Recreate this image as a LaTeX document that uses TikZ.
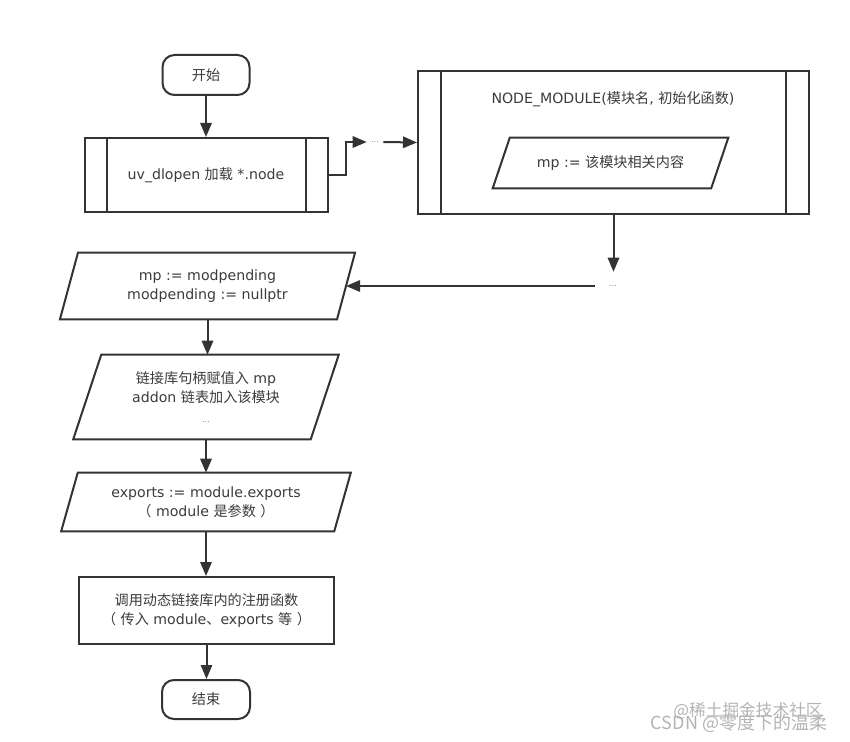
\documentclass[tikz,border=0pt]{standalone}
\usepackage{fontspec}
\setmainfont{DejaVu Sans}
\newfontfamily\cjk{Noto Sans CJK SC}
\usetikzlibrary{arrows.meta}
\definecolor{ln}{HTML}{333333}
\definecolor{tx}{HTML}{3C3C3C}
\definecolor{wm}{HTML}{B4B4B4}
\newcommand\drawpara[2]{\draw[draw=ln, line width=1.5pt, line join=miter]
  ([xshift=#2]#1.north west) -- ([xshift=#2]#1.north east) --
  ([xshift=-#2]#1.south east) -- ([xshift=-#2]#1.south west) -- cycle;}
\newcommand\drawbars[2]{\draw[draw=ln, line width=1.5pt]
  ([xshift=#2]#1.north west) -- ([xshift=#2]#1.south west)
  ([xshift=-#2]#1.north east) -- ([xshift=-#2]#1.south east);}
\begin{document}
\begin{tikzpicture}[x=0.75pt,y=-0.75pt,
  every node/.style={font=\fontsize{10.6}{14.5}\selectfont, text=tx},
  arr/.style={draw=ln, line width=1.5pt, -{Triangle[length=10.5pt,width=8.5pt]}},
  box/.style={draw=ln, line width=1.5pt, rectangle, inner sep=0pt, align=center},
  term/.style={box, rounded corners=9pt},
  ghost/.style={rectangle, inner sep=0pt, align=center},
  dots/.style={rectangle, inner sep=0pt, font=\fontsize{6}{6}\selectfont, text=gray},
  wmark/.style={inner sep=0pt, text=wm}
]
\useasboundingbox[fill=white] (0,0) rectangle (850,742);

% nodes
\node[term, minimum width=65.25pt, minimum height=30pt] (start) at (206,75) {{\cjk 开始}};
\node[box, minimum width=182.25pt, minimum height=55.5pt] (load) at (206,175) {uv\_dlopen {\cjk 加载} *.node};
\drawbars{load}{17.25pt}

\node[box, minimum width=293.25pt, minimum height=107.25pt] (module) at (613.5,142.5) {};
\drawbars{module}{18pt}
\node[ghost] (title) at (613,99) {NODE\_MODULE({\cjk 模块名}, {\cjk 初始化函数})};
\node[ghost, minimum width=163.5pt, minimum height=37.5pt] (mpin) at (610.5,163) {mp :=\ {\cjk 该模块相关内容}};
\drawpara{mpin}{6.4pt}

\node[dots, minimum width=12pt, minimum height=8pt] (dots1) at (375,142) {...};
\node[dots, minimum width=27pt, minimum height=21pt] (dots2) at (613,286) {...};

\node[ghost, minimum width=207.4pt, minimum height=49.5pt] (p1) at (207.5,286) {mp := modpending\\modpending := nullptr};
\drawpara{p1}{6.75pt}

\node[ghost, minimum width=177.75pt, minimum height=63pt] (p2) at (206,397)
  {{\cjk 链接库句柄赋值入} mp\\addon {\cjk 链表加入该模块}\\{\fontsize{6}{6}\selectfont\color{gray}...}};
\drawpara{p2}{10.5pt}

\node[ghost, minimum width=204.4pt, minimum height=43.5pt] (p3) at (206,502)
  {exports := module.exports\\{\cjk （} module {\cjk 是参数} {\cjk ）}};
\drawpara{p3}{6.2pt}

\node[box, minimum width=191.25pt, minimum height=50.25pt] (reg) at (206.5,610.5)
  {{\cjk 调用动态链接库内的注册函数}\\{\cjk （} {\cjk 传入} module{\cjk 、}exports {\cjk 等} {\cjk ）}};

\node[term, minimum width=66pt, minimum height=29.25pt] (end) at (206,699.5) {{\cjk 结束}};

% connectors
\coordinate (bend) at (346,175);
\draw[arr] (start.south) -- (start.south |- load.north);
\draw[arr] (load.east) -- (bend) |- (dots1.west);
\draw[arr] (dots1.east) -- (module.west);
\draw[arr] (module.south) -- (module.south |- dots2.north);
\draw[arr] (dots2.west) -- (p1.east);
\draw[arr] (p1.south) -- (p1.south |- p2.north);
\draw[arr] (p2.south) -- (p2.south |- p3.north);
\draw[arr] (p3.south) -- (p3.south |- reg.north);
\draw[arr] (reg.south) -- (reg.south |- end.north);

% watermarks
\node[wmark, font=\cjk\fontsize{12.5}{12.5}\selectfont] (wm1) at (748,711) {@稀土掘金技术社区};
\node[wmark, font=\cjk\fontsize{13.5}{13.5}\selectfont] (wm2) at (739,723) {CSDN @零度下的温柔};
\end{tikzpicture}
\end{document}
